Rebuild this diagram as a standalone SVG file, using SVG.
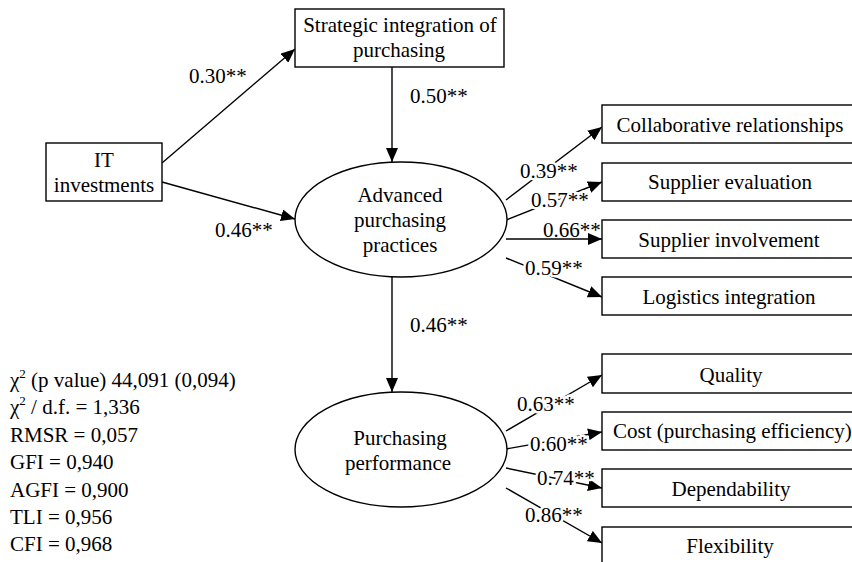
<svg xmlns="http://www.w3.org/2000/svg" width="852" height="562" viewBox="0 0 852 562">
<style>
text{font-family:'Liberation Serif','Times New Roman',Times,'DejaVu Serif',serif;font-size:21px;fill:#000}
.c{text-anchor:middle}
.box{fill:#fff;stroke:#000;stroke-width:1.4}
.ell{fill:#fff;stroke:#000;stroke-width:1.4}
.ln{stroke:#000;stroke-width:1.4;fill:none;marker-end:url(#ah)}
.lbl{stroke:#fff;stroke-width:5;stroke-linejoin:round;paint-order:stroke}
</style>
<defs>
<marker id="ah" markerUnits="userSpaceOnUse" markerWidth="14" markerHeight="12" refX="14" refY="6" orient="auto" viewBox="0 0 14 12">
<path d="M0,0 L14,6 L0,12 Z" fill="#000"/>
</marker>
</defs>
<rect width="852" height="562" fill="#fff"/>

<g id="connectors">
<line class="ln" x1="162" y1="163" x2="295" y2="49"/>
<line class="ln" x1="162" y1="182" x2="295" y2="219"/>
<line class="ln" x1="392" y1="67" x2="392" y2="162"/>
<line class="ln" x1="392" y1="277" x2="392" y2="392"/>
<line class="ln" x1="506" y1="200" x2="602" y2="127"/>
<line class="ln" x1="506" y1="220" x2="602" y2="182"/>
<line class="ln" x1="506" y1="239" x2="602" y2="239"/>
<line class="ln" x1="506" y1="258" x2="602" y2="297"/>
<line class="ln" x1="506" y1="431" x2="602" y2="375"/>
<line class="ln" x1="506" y1="449" x2="602" y2="432"/>
<line class="ln" x1="506" y1="468" x2="602" y2="488"/>
<line class="ln" x1="506" y1="488" x2="602" y2="543"/>
</g>

<g id="labels" font-family="'Liberation Serif','Times New Roman',serif">
<text x="189" y="83">0.30**</text>
<text x="410" y="103">0.50**</text>
<text x="215" y="237">0.46**</text>
<text x="410" y="332">0.46**</text>
<text class="lbl" x="520" y="178">0.39**</text>
<text class="lbl" x="531" y="207">0.57**</text>
<text x="543" y="237">0.66**</text>
<text class="lbl" x="525" y="275">0.59**</text>
<text class="lbl" x="517" y="411">0.63**</text>
<text class="lbl" x="530" y="451">0.60**</text>
<text class="lbl" x="537" y="485">0.74**</text>
<text class="lbl" x="525" y="522">0.86**</text>
</g>

<g id="strategic">
<rect class="box" x="295" y="9" width="209" height="58"/>
<text class="c" x="400" y="32">Strategic integration of</text>
<text class="c" x="399" y="57">purchasing</text>
</g>

<g id="it">
<rect class="box" x="46" y="143" width="116" height="58"/>
<text class="c" x="104" y="167">IT</text>
<text class="c" x="104" y="192">investments</text>
</g>

<g id="advanced">
<ellipse class="ell" cx="401" cy="219.5" rx="106" ry="57.5"/>
<text class="c" x="400" y="202">Advanced</text>
<text class="c" x="400" y="227">purchasing</text>
<text class="c" x="400" y="252">practices</text>
</g>

<g id="performance">
<ellipse class="ell" cx="401" cy="449.5" rx="106" ry="57.5"/>
<text class="c" x="400" y="445">Purchasing</text>
<text class="c" x="398" y="470">performance</text>
</g>

<g id="collab">
<rect class="box" x="602" y="105" width="270" height="38"/>
<text class="c" x="730" y="132">Collaborative relationships</text>
</g>
<g id="evaluation">
<rect class="box" x="602" y="163" width="270" height="38"/>
<text class="c" x="730" y="189">Supplier evaluation</text>
</g>
<g id="involvement">
<rect class="box" x="602" y="220" width="270" height="38"/>
<text class="c" x="729" y="247">Supplier involvement</text>
</g>
<g id="logistics">
<rect class="box" x="602" y="277" width="270" height="38"/>
<text class="c" x="729" y="304">Logistics integration</text>
</g>
<g id="quality">
<rect class="box" x="602" y="354" width="270" height="39"/>
<text class="c" x="731" y="382">Quality</text>
</g>
<g id="cost">
<rect class="box" x="602" y="412" width="270" height="38"/>
<text x="613" y="438">Cost (purchasing efficiency)</text>
</g>
<g id="dependability">
<rect class="box" x="602" y="469" width="270" height="38"/>
<text class="c" x="731" y="496">Dependability</text>
</g>
<g id="flexibility">
<rect class="box" x="602" y="527" width="270" height="38"/>
<text class="c" x="730" y="553">Flexibility</text>
</g>

<g id="fit">
<text x="10" y="387">χ<tspan font-size="13" dy="-9">2</tspan><tspan dy="9"> (p value) 44,091 (0,094)</tspan></text>
<text x="10" y="414">χ<tspan font-size="13" dy="-9">2</tspan><tspan dy="9"> / d.f. = 1,336</tspan></text>
<text x="10" y="442">RMSR = 0,057</text>
<text x="10" y="469">GFI = 0,940</text>
<text x="10" y="497">AGFI = 0,900</text>
<text x="10" y="524">TLI = 0,956</text>
<text x="10" y="551">CFI = 0,968</text>
</g>
</svg>
